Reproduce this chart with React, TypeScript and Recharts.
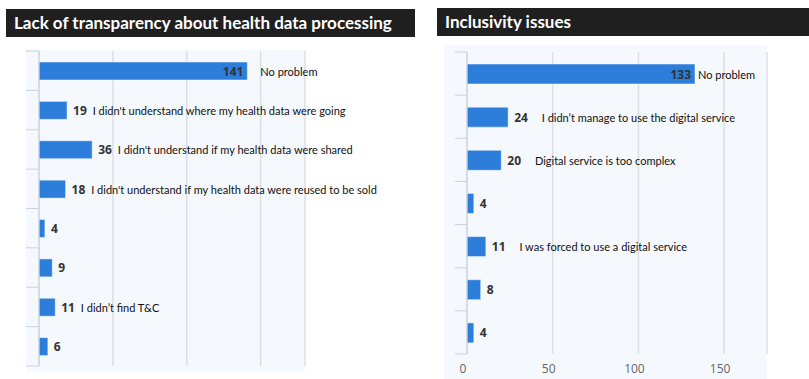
import { BarChart, Bar, XAxis, YAxis, CartesianGrid, LabelList } from "recharts";

// left panel: lack of transparency
const transparencyIds = ["t1", "t2", "t3", "t4", "t5", "t6", "t7", "t8"];
const transparencyValues = [141, 19, 36, 18, 4, 9, 11, 6];
const transparencyNotes = [
  "No problem",
  "I didn't understand where my health data were going",
  "I didn't understand if my health data were shared",
  "I didn't understand if my health data were reused to be sold",
  "",
  "",
  "I didn’t find T&C",
  "",
];

// right panel: inclusivity
const inclusivityIds = ["i1", "i2", "i3", "i4", "i5", "i6", "i7"];
const inclusivityValues = [133, 24, 20, 4, 11, 8, 4];
const inclusivityNotes = [
  "No problem",
  "I didn’t manage to use the digital service",
  "Digital service is too complex",
  "",
  "I was forced to use a digital service",
  "",
  "",
];

const xTicks = [0, 50, 100, 150];

const BAR = "#2d7ddb";
const PLOT_BG = "#f5f8fc";
const GRID = "#dcdfe3";
const AXIS = "#c9d3e3";

function makeLabel(notes: string[], insideMin: number, noteGap: number, insideNoteGap: number) {
  return (props: any) => {
    const { x, y, width, height, value, index } = props;
    const cy = Number(y) + Number(height) / 2;
    const end = Number(x) + Number(width);
    const inside = Number(value) >= insideMin;
    const txt = String(value);
    const vx = inside ? end - 4 : end + 6;
    const noteX = inside ? end + insideNoteGap : vx + txt.length * 7.3 + noteGap;
    const note = notes[index];
    return (
      <g>
        <text
          x={vx}
          y={cy}
          textAnchor={inside ? "end" : "start"}
          dominantBaseline="central"
          fontFamily="'Open Sans', sans-serif"
          fontWeight={700}
          fontSize={12}
          fill="#333"
        >
          {txt}
        </text>
        {note ? (
          <text
            x={noteX}
            y={cy}
            dominantBaseline="central"
            fontFamily="Lato, sans-serif"
            fontSize={11}
            fill="#111"
          >
            {note}
          </text>
        ) : null}
      </g>
    );
  };
}

// tick marks sit on the band edges, not the band centres
function edgeTick(count: number, len: number) {
  return (props: any) => {
    const { x, y, payload, index } = props;
    const half = Number(payload?.offset ?? 0);
    const ax = Number(x);
    const ty = Number(y);
    return (
      <g>
        <line x1={ax - len} x2={ax} y1={ty - half} y2={ty - half} stroke={AXIS} />
        {index === count - 1 ? (
          <line x1={ax - len} x2={ax} y1={ty + half} y2={ty + half} stroke={AXIS} />
        ) : null}
      </g>
    );
  };
}

function Header({ left, top, width, title }: { left: number; top: number; width: number; title: string }) {
  return (
    <div
      style={{
        position: "absolute",
        left,
        top,
        width,
        height: 28,
        background: "#1f1f1f",
        color: "#fff",
        fontFamily: "Lato, sans-serif",
        fontWeight: 700,
        fontSize: 17,
        lineHeight: "28px",
        paddingLeft: 8,
        boxSizing: "border-box",
        whiteSpace: "nowrap",
      }}
    >
      {title}
    </div>
  );
}

export default function App() {
  const leftData = transparencyIds.map((id, i) => ({ id, value: transparencyValues[i] }));
  const rightData = inclusivityIds.map((id, i) => ({ id, value: inclusivityValues[i] }));

  return (
    <div style={{ position: "absolute", left: 0, top: 0, width: 809, height: 379, background: "#fff", overflow: "hidden" }}>
      <style>{`.recharts-surface{overflow:visible}`}</style>
      <Header left={6} top={9} width={409} title="Lack of transparency about health data processing" />
      <Header left={437} top={8} width={372} title="Inclusivity issues" />

      <div style={{ position: "absolute", left: 26, top: 50, width: 279, height: 321, background: PLOT_BG }}>
        <BarChart
          width={279}
          height={321}
          data={leftData}
          layout="vertical"
          margin={{ top: 1, right: 0, bottom: 5, left: 0 }}
        >
          <CartesianGrid horizontal={false} stroke={GRID} strokeWidth={1.5} />
          <XAxis type="number" domain={[0, 180]} ticks={xTicks} hide allowDataOverflow />
          <YAxis
            type="category"
            dataKey="id"
            width={13}
            tickSize={0}
            tickMargin={0}
            tickLine={false}
            tick={edgeTick(transparencyIds.length, 13)}
            stroke={AXIS}
            interval={0}
          />
          <Bar dataKey="value" fill={BAR} barSize={18} stroke="#ffffff" strokeOpacity={0.5} isAnimationActive={false}>
            <LabelList dataKey="value" content={makeLabel(transparencyNotes, 100, 5, 13)} />
          </Bar>
        </BarChart>
      </div>

      <div style={{ position: "absolute", left: 444, top: 45, width: 323, height: 334, background: PLOT_BG }}>
        <BarChart
          width={323}
          height={334}
          data={rightData}
          layout="vertical"
          margin={{ top: 7, right: 0, bottom: 0, left: 0 }}
        >
          <CartesianGrid horizontal={false} stroke={GRID} strokeWidth={1.5} />
          <XAxis
            type="number"
            domain={[0, 175]}
            ticks={xTicks}
            allowDataOverflow
            axisLine={false}
            tickLine={false}
            height={25}
            tick={{ fontFamily: "'Open Sans', sans-serif", fontSize: 12, fill: "#666", dx: -4, dy: 2 }}
          />
          <YAxis
            type="category"
            dataKey="id"
            width={23}
            tickSize={0}
            tickMargin={0}
            tickLine={false}
            tick={edgeTick(inclusivityIds.length, 12)}
            stroke={AXIS}
            interval={0}
          />
          <Bar dataKey="value" fill={BAR} barSize={20} stroke="#ffffff" strokeOpacity={0.5} isAnimationActive={false}>
            <LabelList dataKey="value" content={makeLabel(inclusivityNotes, 100, 13, 3)} />
          </Bar>
        </BarChart>
      </div>
    </div>
  );
}
